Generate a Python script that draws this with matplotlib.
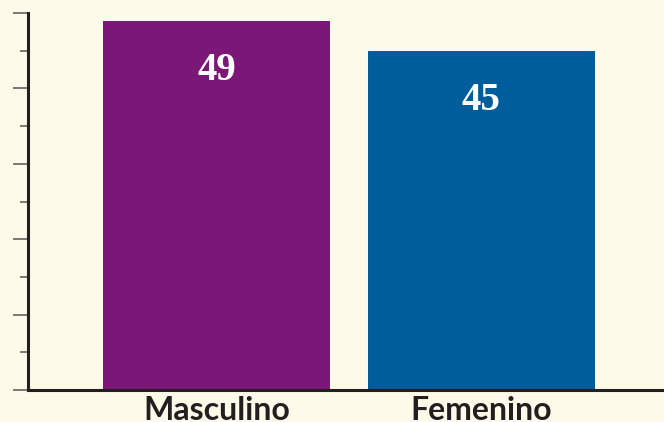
import matplotlib.pyplot as plt
from matplotlib.ticker import MultipleLocator

categories = ["Masculino", "Femenino"]
values = [49, 45]
colors = ["#7B1776", "#005D9B"]
bg = "#FEFAEA"

fig = plt.figure(figsize=(6.64, 4.22), dpi=100, facecolor=bg)
ax = fig.add_axes([28 / 664, 32 / 422, 1 - 28 / 664, (390 - 13) / 422])
ax.set_facecolor(bg)

x = range(len(categories))
ax.bar(x, values, width=0.857, color=colors, zorder=2)

for xi, v in zip(x, values):
    ax.text(xi, v - 6.6, str(v), ha="center", va="center", color="white",
            fontsize=28, fontweight="bold", family="Liberation Serif")

ax.set_ylim(0, 50)
ax.set_xlim(-0.711, 1.689)
ax.yaxis.set_major_locator(MultipleLocator(10))
ax.yaxis.set_minor_locator(MultipleLocator(5))
ax.tick_params(axis="y", which="major", length=11, width=1.1, color="#555555", labelleft=False)
ax.tick_params(axis="y", which="minor", length=6, width=1.1, color="#555555")
ax.set_xticks(list(x))
ax.set_xticklabels(categories, fontsize=23, fontweight="bold", family="Lato", color="#231F20")
ax.tick_params(axis="x", length=0, pad=4)

for s in ["top", "right"]:
    ax.spines[s].set_visible(False)
for s in ["left", "bottom"]:
    ax.spines[s].set_linewidth(2.2)
    ax.spines[s].set_color("#231F20")

fig.savefig("out.png", dpi=100, facecolor=bg)
